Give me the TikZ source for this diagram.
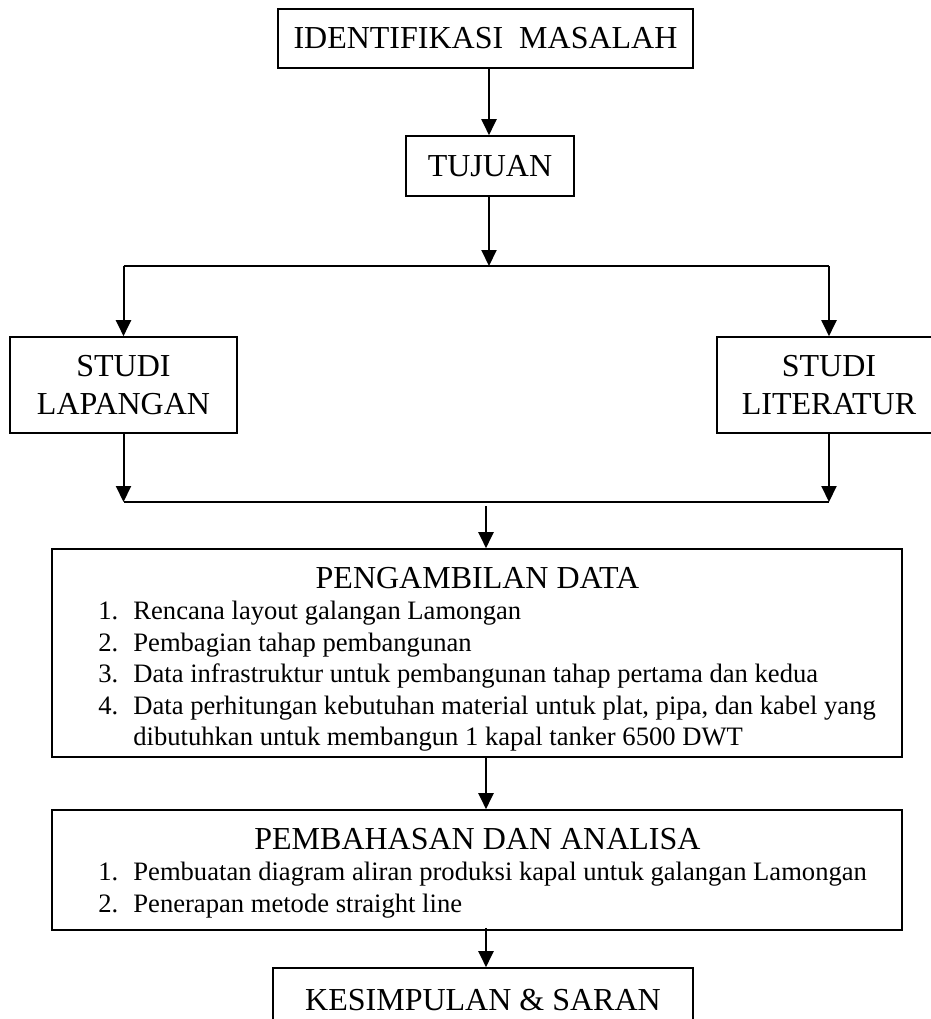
\documentclass[tikz,border=0pt]{standalone}
\usepackage{fontspec}
\setmainfont{Liberation Serif}
\usetikzlibrary{arrows.meta}
\begin{document}
\begin{tikzpicture}[x=0.5pt,y=-0.5pt,
  box/.style={draw, line width=0.8pt, inner sep=0pt, align=center, font=\fontsize{16}{19}\selectfont},
  title/.style={anchor=base, inner sep=0pt, font=\fontsize{16}{19}\selectfont},
  item/.style={anchor=base west, inner sep=0pt, font=\fontsize{13.3}{15.75}\selectfont},
  arr/.style={line width=1pt, -{Triangle[width=7.5pt,length=8pt]}},
  ln/.style={line width=1pt}]
\useasboundingbox (0,0) rectangle (931,1019);
\clip (0,0) rectangle (931,1019);
% boxes
\node[box, minimum width=207.5pt, minimum height=29.5pt] (ident) at (485.5,38.5) {IDENTIFIKASI\ \ MASALAH};
\node[box, minimum width=84pt, minimum height=30pt] (tujuan) at (490,166) {TUJUAN};
\node[box, minimum width=113.5pt, minimum height=48pt] (lap) at (123.5,385) {STUDI\\LAPANGAN};
\node[box, minimum width=112pt, minimum height=48pt] (lit) at (829,385) {STUDI\\LITERATUR};
\node[box, minimum width=425pt, minimum height=104pt] (data) at (477,653) {};
\node[box, minimum width=425pt, minimum height=60pt] (bahas) at (477,870) {};
\node[box, minimum width=210pt, minimum height=32pt] (kes) at (483,1000) {KESIMPULAN \& SARAN};
% texts of data box
\node[title] (dt) at (477.5,588) {PENGAMBILAN DATA};
\node[item] (dn1) at (98,619.5) {1.};
\node[item] (dn2) at (98,651) {2.};
\node[item] (dn3) at (98,682.5) {3.};
\node[item] (dn4) at (98,714) {4.};
\node[item] (d1) at (133,619.5) {Rencana layout galangan Lamongan};
\node[item] (d2) at (133,651) {Pembagian tahap pembangunan};
\node[item] (d3) at (133,682.5) {Data infrastruktur untuk pembangunan tahap pertama dan kedua};
\node[item] (d4) at (133,714) {Data perhitungan kebutuhan material untuk plat, pipa, dan kabel yang};
\node[item] (d5) at (133,745.5) {dibutuhkan untuk membangun 1 kapal tanker 6500 DWT};
% texts of bahas box
\node[title] (bt) at (477.5,849) {PEMBAHASAN DAN ANALISA};
\node[item] (bn1) at (98,880.5) {1.};
\node[item] (bn2) at (98,912) {2.};
\node[item] (b1) at (133,880.5) {Pembuatan diagram aliran produksi kapal untuk galangan Lamongan};
\node[item] (b2) at (133,912) {Penerapan metode straight line};
% connectors
\coordinate (split) at (489,266);
\coordinate (join) at (486,502);
\coordinate (j2) at (486,506);
\draw[arr] (ident.south -| split) -- (tujuan.north -| split);
\draw[arr] (tujuan.south -| split) -- (split);
\draw[ln] (lap.north |- split) -- (lit.north |- split);
\draw[arr] (lap.north |- split) -- (lap.north);
\draw[arr] (lit.north |- split) -- (lit.north);
\draw[arr] (lap.south) -- (lap.south |- join);
\draw[arr] (lit.south) -- (lit.south |- join);
\draw[ln] (lap.south |- join) -- (lit.south |- join);
\draw[arr] (j2) -- (j2 |- data.north);
\draw[arr] (data.south -| j2) -- (bahas.north -| j2);
\draw[arr] ([yshift=1.5pt]bahas.south -| j2) -- (kes.north -| j2);
\end{tikzpicture}
\end{document}
